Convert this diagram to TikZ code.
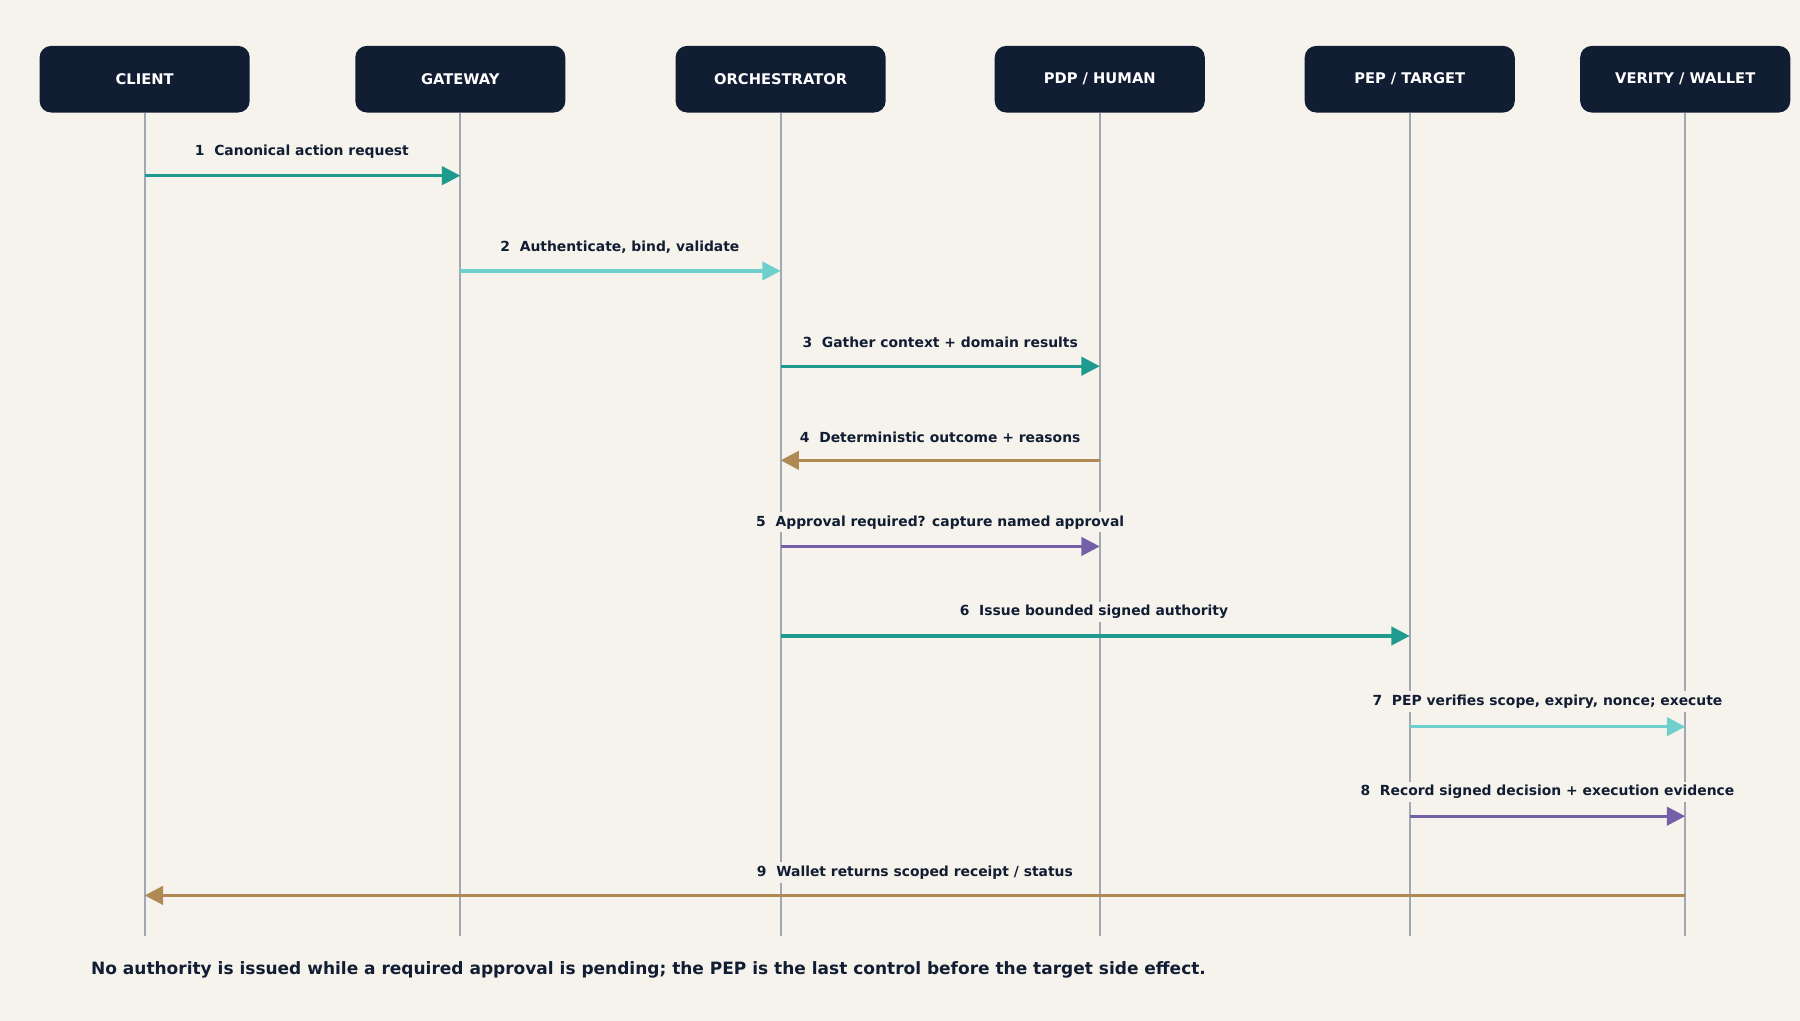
\documentclass[tikz,border=0pt]{standalone}
\usepackage{fontspec}
\setmainfont{DejaVu Sans}
\usetikzlibrary{arrows.meta}
\definecolor{bg}{HTML}{F6F3EC}
\definecolor{box}{HTML}{111D33}
\definecolor{life}{HTML}{A0A8B4}
\definecolor{teal}{HTML}{1F9A8F}
\definecolor{cyan}{HTML}{6FCFCC}
\definecolor{brown}{HTML}{B08A55}
\definecolor{purple}{HTML}{7460A8}
\begin{document}
\begin{tikzpicture}[x=0.5pt,y=-0.5pt,
  actor/.style={fill=box,rounded corners=5pt,minimum width=91.5pt,minimum height=29pt,text=white,font=\bfseries\fontsize{6.4}{8}\selectfont,inner sep=0},
  life/.style={draw=life,line width=0.8pt},
  msg/.style={line width=1.4pt,-{Triangle[length=8pt,width=8pt]}},
  lab/.style={fill=bg,inner sep=1.5pt,text=box,font=\bfseries\fontsize{6.05}{8}\selectfont}]
\fill[bg] (0,0) rectangle (1568,889);
\useasboundingbox (0,0) rectangle (1568,889);
\foreach \n/\x/\t in {c/126/{CLIENT},g/401/{GATEWAY},o/680/{ORCHESTRATOR},p/958/{PDP / HUMAN},e/1228/{PEP / TARGET},v/1468/{VERITY / WALLET}}{
  \node[actor] (\n) at (\x,69) {\t};
  \coordinate (\n b) at (\x,815);
  \draw[life] (\n.south) -- (\n b);
  \foreach \y in {153,236,319,401,476,554,633,711,780}{\coordinate (\n\y) at (\x,\y);}
}
\node[lab] (l1) at (263,132) {1\ \ Canonical action request};
\node[lab] (l2) at (540,215) {2\ \ Authenticate, bind, validate};
\node[lab] (l3) at (819,298) {3\ \ Gather context + domain results};
\node[lab] (l4) at (819,381) {4\ \ Deterministic outcome + reasons};
\node[lab] (l5) at (819,455) {5\ \ Approval required? capture named approval};
\node[lab] (l6) at (953,533) {6\ \ Issue bounded signed authority};
\node[lab] (l7) at (1348,611) {7\ \ PEP verifies scope, expiry, nonce; execute};
\node[lab] (l8) at (1348,690) {8\ \ Record signed decision + execution evidence};
\node[lab] (l9) at (797,760) {9\ \ Wallet returns scoped receipt / status};
\draw[msg,teal] (c153) -- (g153);
\draw[msg,cyan] (g236) -- (o236);
\draw[msg,teal] (o319) -- (p319);
\draw[msg,brown] (p401) -- (o401);
\draw[msg,purple] (o476) -- (p476);
\draw[msg,teal] (o554) -- (e554);
\draw[msg,cyan] (e633) -- (v633);
\draw[msg,purple] (e711) -- (v711);
\draw[msg,brown] (v780) -- (c780);
\node[anchor=west,text=box,font=\bfseries\fontsize{7.4}{9}\selectfont,inner sep=0] (foot) at (79,845) {No authority is issued while a required approval is pending; the PEP is the last control before the target side effect.};
\end{tikzpicture}
\end{document}
